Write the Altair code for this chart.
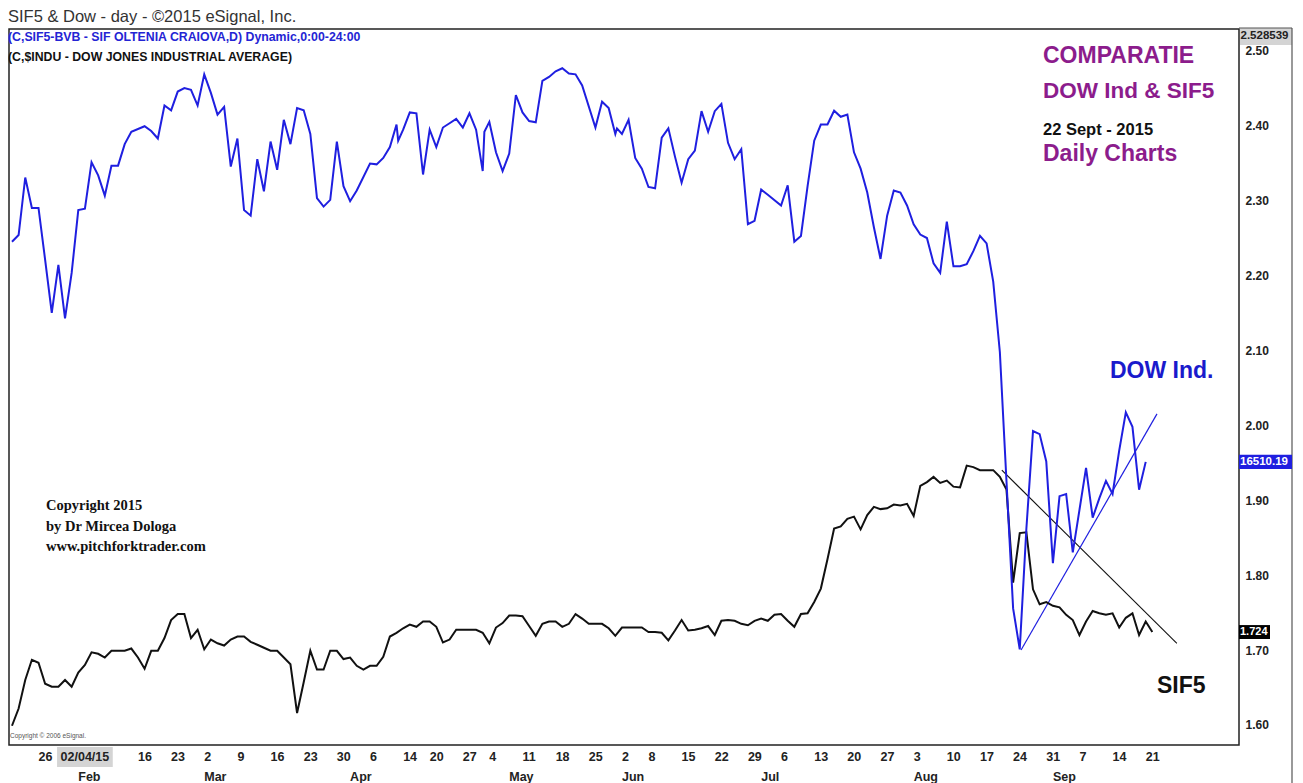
import altair as alt
import pandas as pd

# ---------------- data ----------------
BVB_HOLIDAYS = ["2015-04-13", "2015-05-01", "2015-06-01"]
US_HOLIDAYS = ["2015-02-16", "2015-04-03", "2015-05-25", "2015-07-03", "2015-09-07"]
FIRST_DAY = "2015-01-20"
LAST_BVB_DAY = "2015-09-22"
LAST_US_DAY = "2015-09-21"
AXIS_ANCHOR = "2015-01-26"

# SIF5 daily close (BVB trading days, 2015-01-20 .. 2015-09-22)
SIF5 = [1.599, 1.622, 1.660, 1.687,
        1.683, 1.655, 1.651, 1.651, 1.660,
        1.651, 1.670, 1.680, 1.697, 1.695,
        1.690, 1.699, 1.699, 1.699, 1.702,
        1.690, 1.675, 1.699, 1.699, 1.716,
        1.740, 1.748, 1.748, 1.716, 1.727,
        1.701, 1.714, 1.709, 1.706, 1.714,
        1.718, 1.718, 1.711, 1.707, 1.703,
        1.699, 1.699, 1.690, 1.681, 1.616,
        1.657, 1.699, 1.674, 1.674, 1.699,
        1.699, 1.688, 1.690, 1.679, 1.674,
        1.679, 1.679, 1.691, 1.718, 1.723,
        1.729, 1.734, 1.731, 1.738, 1.738,
        1.731, 1.710, 1.714, 1.727, 1.727,
        1.727, 1.727, 1.723, 1.709, 1.730,
        1.736, 1.746, 1.746, 1.745, 1.732,
        1.719, 1.735, 1.738, 1.738, 1.731,
        1.735, 1.748, 1.742, 1.735, 1.735,
        1.735, 1.729, 1.719, 1.730, 1.730,
        1.730, 1.730, 1.724, 1.724, 1.723,
        1.713, 1.726, 1.740, 1.726, 1.727,
        1.729, 1.732, 1.720, 1.739, 1.740,
        1.739, 1.735, 1.733, 1.739, 1.742,
        1.739, 1.747, 1.748, 1.739, 1.731,
        1.748, 1.749, 1.764, 1.782, 1.821,
        1.862, 1.865, 1.875, 1.878, 1.861,
        1.880, 1.891, 1.888, 1.889, 1.894,
        1.893, 1.895, 1.879, 1.919, 1.924,
        1.931, 1.923, 1.926, 1.918, 1.917,
        1.946, 1.944, 1.940, 1.940, 1.940,
        1.931, 1.914, 1.790, 1.856, 1.857,
        1.781, 1.761, 1.764, 1.759, 1.757,
        1.747, 1.740, 1.720, 1.738, 1.752,
        1.749, 1.747, 1.749, 1.730, 1.743,
        1.749, 1.720, 1.738, 1.724]

# Dow Jones Industrial Average daily close (US trading days, 2015-01-20 .. 2015-09-21)
DOW = [17532, 17563, 17830, 17689, 17689, 17448, 17202, 17424, 17176,            # Jan
       17387, 17679, 17685, 17901, 17840, 17746, 17885, 17885, 17985, 18042,     # Feb
       18068, 18046, 18011, 18164, 18142, 18229, 18245, 18237, 18164,
       18309, 18223, 18122, 18158, 17881, 18011, 17679, 17653, 17915, 17766,     # Mar
       17997, 17866, 18098, 17985, 18152, 18142, 18032, 17734, 17695, 17726,
       17997, 17790,
       17720, 17770, 17895, 17891, 17921, 17971, 18076, 18001, 18052, 18132,     # Apr
       18128, 17844, 18052, 17971, 18062, 18082, 18102, 18062, 18128, 18052,
       17860,
       18042, 18088, 17947, 17860, 17941, 18213, 18132, 18092, 18086, 18279,     # May
       18297, 18323, 18337, 18313, 18309, 18257, 18062, 18182, 18152, 18032,
       18058, 18032, 18098, 17921, 17871, 17786, 17780, 18015, 18058, 17927,     # Jun
       17806, 17915, 17955, 18138, 18042, 18138, 18172, 17991, 17915, 17961,
       17613, 17629,
       17774, 17750, 17700, 17794, 17532, 17559, 17790, 18001, 18076, 18076,     # Jul
       18140, 18112, 18122, 17947, 17871, 17760, 17599, 17452, 17653, 17770,
       17760, 17700,
       17613, 17565, 17549, 17432, 17388, 17625, 17418, 17418, 17428, 17488,     # Aug
       17559, 17524, 17347, 17020, 16420, 15830, 15640, 16200, 16653, 16639,
       16512,
       16040, 16351, 16361, 16090, 16482, 16251, 16341, 16422, 16361, 16562,     # Sep
       16740, 16673, 16381, 16510.19]

TICK_DATES = ["2015-01-26", "2015-02-16", "2015-02-23", "2015-03-02", "2015-03-09",
              "2015-03-16", "2015-03-23", "2015-03-30", "2015-04-06", "2015-04-14",
              "2015-04-20", "2015-04-27", "2015-05-04", "2015-05-11", "2015-05-18",
              "2015-05-25", "2015-06-02", "2015-06-08", "2015-06-15", "2015-06-22",
              "2015-06-29", "2015-07-06", "2015-07-13", "2015-07-20", "2015-07-27",
              "2015-08-03", "2015-08-10", "2015-08-17", "2015-08-24", "2015-08-31",
              "2015-09-07", "2015-09-14", "2015-09-21"]
TICK_LABELS = ["26", "16", "23", "2", "9", "16", "23", "30", "6", "14", "20", "27",
               "4", "11", "18", "25", "2", "8", "15", "22", "29", "6", "13", "20",
               "27", "3", "10", "17", "24", "31", "7", "14", "21"]
MONTH_DATES = ["2015-02-03", "2015-03-02", "2015-04-01", "2015-05-07", "2015-06-02",
               "2015-07-01", "2015-08-03", "2015-09-01"]
MONTH_LABELS = ["Feb", "Mar", "Apr", "May", "Jun", "Jul", "Aug", "Sep"]
CURSOR_DATE = "2015-02-04"
CURSOR_LABEL = "02/04/15"

Y_TICKS = [1.60, 1.70, 1.80, 1.90, 2.00, 2.10, 2.20, 2.30, 2.40, 2.50]
SCALE_TOP = 2.528539
SCALE_BOTTOM = 1.5733
DOW_BOTTOM = 15196.0
DOW_TOP = 18519.3
X_DOMAIN = [-4.45, 181.07]

# trend lines (trading-day index, SIF5-axis value)
TREND_BLACK_X = [145.3, 171.7]
TREND_BLACK_Y = [1.940, 1.709]
TREND_BLUE_X = [148.2, 168.7]
TREND_BLUE_Y = [1.700, 2.015]

# ---------------- build tables ----------------
bvb_days = [d.strftime("%Y-%m-%d") for d in pd.bdate_range(FIRST_DAY, LAST_BVB_DAY)
            if d.strftime("%Y-%m-%d") not in BVB_HOLIDAYS]
us_days = [d.strftime("%Y-%m-%d") for d in pd.bdate_range(FIRST_DAY, LAST_US_DAY)
           if d.strftime("%Y-%m-%d") not in US_HOLIDAYS]
assert len(bvb_days) == len(SIF5), (len(bvb_days), len(SIF5))
assert len(us_days) == len(DOW), (len(us_days), len(DOW))
anchor = bvb_days.index(AXIS_ANCHOR)
bvb_idx = {d: k - anchor for k, d in enumerate(bvb_days)}


def pos(ds):
    if ds in bvb_idx:
        return bvb_idx[ds]
    prev = max(v for k, v in bvb_idx.items() if k < ds)
    return prev + 0.25


sif_df = pd.DataFrame({"idx": [bvb_idx[d] for d in bvb_days], "v": SIF5})
dow_df = pd.DataFrame({"idx": [pos(d) for d in us_days], "dow": DOW})
tick_df = pd.DataFrame({"idx": [pos(d) for d in TICK_DATES], "lbl": TICK_LABELS})
month_df = pd.DataFrame({"idx": [pos(d) for d in MONTH_DATES], "lbl": MONTH_LABELS})
cursor_df = pd.DataFrame({"idx": [pos(CURSOR_DATE)], "lbl": [CURSOR_LABEL]})
tb_df = pd.DataFrame({"idx": TREND_BLACK_X, "v": TREND_BLACK_Y})
tu_df = pd.DataFrame({"idx": TREND_BLUE_X, "v": TREND_BLUE_Y})
last_sif = pd.DataFrame({"v": [SIF5[-1]], "lbl": [f"{SIF5[-1]:.3f}"]})
last_dow = pd.DataFrame({"dow": [DOW[-1]], "lbl": [f"{DOW[-1]:.2f}"]})

# ---------------- styling ----------------
SANS = "Liberation Sans, Arial, sans-serif"
SERIF = "Liberation Serif, Times New Roman, serif"
BLUE = "#1f1fe0"
PURPLE = "#8c1c8c"
W, H = 1230, 716

XS = alt.Scale(domain=X_DOMAIN, nice=False, zero=False)
YS = alt.Scale(domain=[SCALE_BOTTOM, SCALE_TOP], nice=False, zero=False)
DS = alt.Scale(domain=[DOW_BOTTOM, DOW_TOP], nice=False, zero=False)
X = alt.X("idx:Q", scale=XS, axis=None)

y_axis = alt.Axis(orient="right", values=Y_TICKS, format=".2f", ticks=False, tickSize=0,
                  domain=False, grid=False, labelFont=SANS, labelFontSize=12,
                  labelFontWeight="bold", labelColor="#222", labelPadding=6,
                  labelAlign="left", title=None)

sif_line = alt.Chart(sif_df).mark_line(color="#111", strokeWidth=2).encode(
    x=X, y=alt.Y("v:Q", scale=YS, axis=y_axis))
dow_line = alt.Chart(dow_df).mark_line(color=BLUE, strokeWidth=2).encode(
    x=X, y=alt.Y("dow:Q", scale=DS, axis=None))
trend_black = alt.Chart(tb_df).mark_line(color="#111", strokeWidth=1.1).encode(
    x=X, y=alt.Y("v:Q", scale=YS, axis=None))
trend_blue = alt.Chart(tu_df).mark_line(color=BLUE, strokeWidth=1.2).encode(
    x=X, y=alt.Y("v:Q", scale=YS, axis=None))


def txt(s, x, y, size, color="#222", weight="bold", font=SANS, align="left", baseline="alphabetic"):
    return alt.Chart(pd.DataFrame({"t": [s]})).mark_text(
        align=align, baseline=baseline, font=font, fontSize=size, fontWeight=weight,
        color=color).encode(x=alt.value(x), y=alt.value(y), text="t:N")


# right-column value boxes
sif_box = alt.Chart(last_sif).transform_calculate(
    lo="datum.v - 0.0093", hi="datum.v + 0.0093").mark_rect(color="#000").encode(
    x=alt.value(W), x2=alt.value(W + 31),
    y=alt.Y("lo:Q", scale=YS, axis=None), y2="hi:Q")
sif_box_t = alt.Chart(last_sif).mark_text(
    align="left", baseline="middle", font=SANS, fontSize=11, fontWeight="bold",
    color="white").encode(x=alt.value(W + 1), y=alt.Y("v:Q", scale=YS, axis=None), text="lbl:N")
dow_box = alt.Chart(last_dow).transform_calculate(
    lo="datum.dow - 33", hi="datum.dow + 33").mark_rect(color=BLUE).encode(
    x=alt.value(W), x2=alt.value(W + 53),
    y=alt.Y("lo:Q", scale=DS, axis=None), y2="hi:Q")
dow_box_t = alt.Chart(last_dow).mark_text(
    align="left", baseline="middle", font=SANS, fontSize=11.5, fontWeight="bold",
    color="white").encode(x=alt.value(W + 1), y=alt.Y("dow:Q", scale=DS, axis=None), text="lbl:N")

top_box = alt.Chart(pd.DataFrame({"a": [0]})).mark_rect(color="#d4d4d4").encode(
    x=alt.value(W + 1), x2=alt.value(W + 53), y=alt.value(-1), y2=alt.value(16))
top_box_t = txt(f"{SCALE_TOP:.6f}", W + 1.5, 6.5, 11.5, baseline="middle")

right_border = alt.Chart(pd.DataFrame({"a": [0]})).mark_rule(color="#555", strokeWidth=1.2).encode(
    x=alt.value(W + 53), y=alt.value(-1), y2=alt.value(H + 40))
right_top = alt.Chart(pd.DataFrame({"a": [0]})).mark_rule(color="#555", strokeWidth=1.2).encode(
    x=alt.value(W), x2=alt.value(W + 53), y=alt.value(-1))

# x-axis labels
cursor_box = alt.Chart(cursor_df).transform_calculate(
    lo="datum.idx - 4.2", hi="datum.idx + 4.2").mark_rect(color="#d4d4d4").encode(
    x=alt.X("lo:Q", scale=XS, axis=None), x2="hi:Q", y=alt.value(H + 2), y2=alt.value(H + 22))
cursor_t = alt.Chart(cursor_df).mark_text(
    align="center", baseline="middle", font=SANS, fontSize=12.5, fontWeight="bold",
    color="#222").encode(x=X, y=alt.value(H + 12), text="lbl:N")
ticks_t = alt.Chart(tick_df).mark_text(
    align="left", baseline="middle", font=SANS, fontSize=12.5, fontWeight="bold",
    color="#222").encode(x=X, y=alt.value(H + 12), text="lbl:N")
months_t = alt.Chart(month_df).mark_text(
    align="left", baseline="middle", font=SANS, fontSize=12.5, fontWeight="bold",
    color="#222").encode(x=X, y=alt.value(H + 32), text="lbl:N")

texts = [
    txt("SIF5  & Dow - day - \u00a92015 eSignal, Inc.", -1, -7, 16.5, color="#333", weight="normal"),
    txt("(C,SIF5-BVB - SIF OLTENIA CRAIOVA,D) Dynamic,0:00-24:00", -1, 12, 12.3, color="#2424d4"),
    txt("(C,$INDU - DOW JONES INDUSTRIAL AVERAGE)", -1, 32, 12.3, color="#111"),
    txt("COMPARATIE", 1034, 34, 23, color=PURPLE),
    txt("DOW Ind  & SIF5", 1034, 69, 22.5, color=PURPLE),
    txt("22 Sept -  2015", 1034, 106, 16.5, color="#111"),
    txt("Daily Charts", 1034, 132, 23, color=PURPLE),
    txt("DOW Ind.", 1101, 349, 23, color="#1a1acc"),
    txt("SIF5", 1148, 664, 23, color="#111"),
    txt("Copyright 2015", 37, 481, 14.5, color="#111", font=SERIF),
    txt("by Dr Mircea Dologa", 37, 502, 14.5, color="#111", font=SERIF),
    txt("www.pitchforktrader.com", 37, 522, 14.5, color="#111", font=SERIF),
    txt("Copyright \u00a9 2006 eSignal.", 1, 709, 6.5, color="#555", weight="normal"),
]

chart = alt.layer(
    trend_black, trend_blue, sif_line, dow_line,
    top_box, top_box_t, right_border, right_top,
    sif_box, sif_box_t, dow_box, dow_box_t,
    cursor_box, ticks_t, cursor_t, months_t,
    *texts
).resolve_scale(y="independent").properties(
    width=W, height=H,
    autosize=alt.AutoSizeParams(type="none"),
    padding={"left": 1, "top": 21, "right": 54, "bottom": 38},
    background="white",
).configure_view(stroke="#222", strokeWidth=1.5)

chart.save("out.html", embed_options={"renderer": "svg", "actions": False})
